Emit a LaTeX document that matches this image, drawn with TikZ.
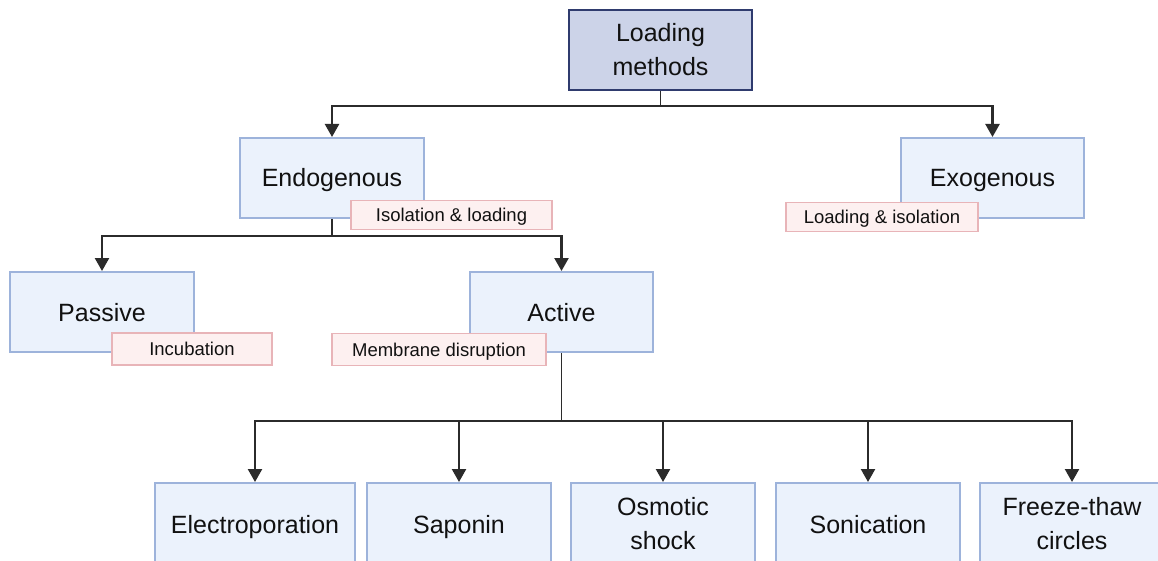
\documentclass[tikz,border=0pt]{standalone}
\usepackage{fontspec}
\setmainfont{Liberation Sans}
\usetikzlibrary{arrows.meta}
\definecolor{boxfill}{HTML}{EBF2FC}
\definecolor{boxline}{HTML}{9DB3DB}
\definecolor{mainfill}{HTML}{CCD3E8}
\definecolor{mainline}{HTML}{2F3B6E}
\definecolor{labfill}{HTML}{FDF0F0}
\definecolor{labline}{HTML}{E8B4B8}
\definecolor{txt}{HTML}{111111}
\definecolor{conncol}{HTML}{2B2B2B}
\begin{document}
\begin{tikzpicture}[x=1pt,y=-1pt,
  box/.style={draw=boxline, fill=boxfill, line width=2pt, minimum width=184pt, minimum height=80pt,
    inner sep=0pt, font=\fontsize{25}{34}\selectfont, text=txt},
  onebox/.style={box, text height=18pt, text depth=0pt},
  twobox/.style={box, align=center},
  mainbox/.style={twobox, draw=mainline, fill=mainfill, line width=2.5pt, minimum width=183pt},
  lab/.style={draw=labline, fill=labfill, line width=1.8pt, minimum height=29pt, inner sep=0pt,
    font=\fontsize{18.5}{20}\selectfont, text=txt, text height=13.3pt, text depth=0pt},
  conn/.style={draw=conncol, line width=2.3pt, -{Triangle[length=13pt,width=14pt]}},
  stem/.style={draw=conncol, line width=1.1pt}]
\useasboundingbox (0,0) rectangle (1158,561);
\clip (0,0) rectangle (1158,561);
\fill[white] (0,0) rectangle (1158,561);

% nodes
\node[mainbox] (lm) at (660.5,50) {Loading\\methods};
\node[onebox] (endo) at (332,178) {Endogenous};
\node[onebox, minimum width=183pt] (exo) at (992.5,178) {Exogenous};
\node[onebox] (pas) at (102,312) {Passive};
\node[onebox, minimum width=183pt] (act) at (561.5,312) {Active};
\node[onebox, minimum width=200pt, minimum height=82pt] (elec) at (255,524) {Electroporation};
\node[onebox, minimum height=82pt] (sapo) at (459,524) {Saponin};
\node[twobox, minimum height=82pt] (osm) at (663,524) {Osmotic\\shock};
\node[onebox, minimum height=82pt] (soni) at (868,524) {Sonication};
\node[twobox, minimum height=82pt] (frz) at (1072,524) {Freeze-thaw\\circles};

% labels
\node[lab, minimum width=201pt] (l1) at (451.5,215) {Isolation \& loading};
\node[lab, minimum width=192pt] (l2) at (882,217) {Loading \& isolation};
\node[lab, minimum width=160pt, minimum height=32pt] (l3) at (192,349) {Incubation};
\node[lab, minimum width=214pt, minimum height=32pt] (l4) at (439,349.5) {Membrane disruption};

% connectors
\draw[stem] (lm.south) -- (lm.south |- 0,106) coordinate (j1);
\draw[conn] (j1) -| (endo.north);
\draw[conn] (j1) -| (exo.north);

\draw[stem] (endo.south) -- (endo.south |- 0,236) coordinate (j2);
\draw[conn] (j2) -| (pas.north);
\draw[conn] (j2) -| (act.north);

\draw[stem] (act.south) -- (act.south |- 0,421) coordinate (j3);
\draw[conn] (j3) -| (elec.north);
\draw[conn] (j3) -| (sapo.north);
\draw[conn] (j3) -| (osm.north);
\draw[conn] (j3) -| (soni.north);
\draw[conn] (j3) -| (frz.north);
\end{tikzpicture}
\end{document}
